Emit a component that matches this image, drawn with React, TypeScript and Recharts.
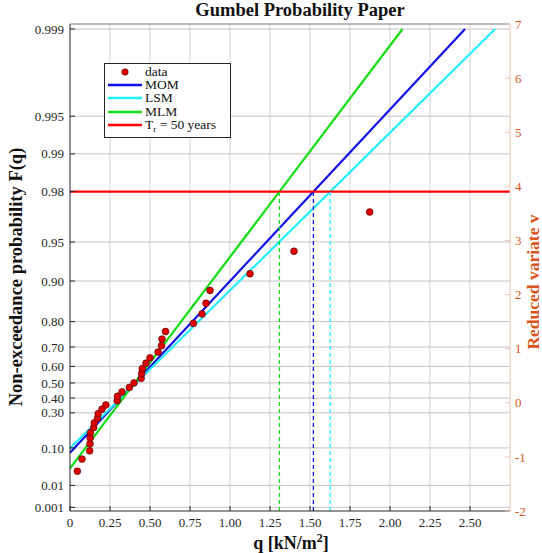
import {
  ComposedChart,
  Line,
  Scatter,
  XAxis,
  YAxis,
  ReferenceLine,
} from "recharts";

// sorted annual maxima q [kN/m2] and their plotting positions
const qObs = [
  0.046, 0.075, 0.123, 0.125, 0.126, 0.128, 0.148, 0.152, 0.172, 0.176, 0.2,
  0.224, 0.295, 0.297, 0.325, 0.371, 0.4, 0.445, 0.448, 0.452, 0.475, 0.5,
  0.55, 0.572, 0.575, 0.597, 0.771, 0.825, 0.85, 0.875, 1.125, 1.4, 1.873,
];
const pObs = [
  0.029, 0.059, 0.088, 0.118, 0.147, 0.176, 0.206, 0.235, 0.265, 0.294, 0.324,
  0.353, 0.382, 0.412, 0.441, 0.471, 0.5, 0.529, 0.559, 0.588, 0.618, 0.647,
  0.676, 0.706, 0.735, 0.765, 0.794, 0.824, 0.853, 0.882, 0.912, 0.941, 0.971,
];

// fitted Gumbel parameters: location u, scale alpha
const fitNames = ["MOM", "LSM", "MLM"];
const fitU = [0.291, 0.288, 0.31];
const fitAlpha = [0.3153, 0.343, 0.256];
const fitColors = ["#1010e8", "#22eeff", "#11dd11"];

const returnPeriod = 50;
const pMax = 0.999;

const probTicks = [
  "0.001", "0.01", "0.10", "0.30", "0.40", "0.50", "0.60", "0.70", "0.80",
  "0.90", "0.95", "0.98", "0.99", "0.995", "0.999",
];
const qTicks = [0, 0.25, 0.5, 0.75, 1, 1.25, 1.5, 1.75, 2, 2.25, 2.5];
const vTicks = [-2, -1, 0, 1, 2, 3, 4, 5, 6, 7];
const qMax = 2.75;

const FONT = "'Liberation Serif', 'DejaVu Serif', serif";
const AXIS = "#262626";
const ORANGE = "#D95319";
const GRID = "#d4d4d4";
const GRID_ROW = "#c4c4c4";

// reduced variate of the Gumbel distribution
const gumbelV = (p: number) => -Math.log(-Math.log(p));

const obs = qObs.map((q, i) => ({ q, v: gumbelV(pObs[i]) }));
const vT = gumbelV(1 - 1 / returnPeriod);
const vTop = gumbelV(pMax);

const fits = fitNames.map((name, i) => {
  const u = fitU[i];
  const a = fitAlpha[i];
  return {
    name,
    color: fitColors[i],
    line: [
      { q: 0, v: -u / a },
      { q: u + a * vTop, v: vTop },
    ],
    qDesign: u + a * vT,
  };
});

const probTickV = probTicks.map((p) => gumbelV(parseFloat(p)));
const probLabel = (v: number) => {
  let best = 0;
  probTickV.forEach((t, i) => {
    if (Math.abs(t - v) < Math.abs(probTickV[best] - v)) best = i;
  });
  return probTicks[best];
};

// horizontal grid of the probability paper, one row per F tick
const gridRows = probTickV.map((v) => [
  { q: 0, v },
  { q: qMax, v },
]);

const Dot = (props: any) => (
  <circle
    cx={props.cx}
    cy={props.cy}
    r={3.4}
    fill="#e00000"
    stroke="#4a0000"
    strokeWidth={0.6}
  />
);

function LegendBox() {
  const rows = [
    { label: "data", color: "#e00000", dot: true },
    ...fits.map((f) => ({ label: f.name, color: f.color, dot: false })),
    { label: "Tr", color: "#ff0000", dot: false },
  ];
  return (
    <div
      style={{
        position: "absolute",
        left: 104,
        top: 63,
        width: 127,
        height: 75,
        border: "1px solid #262626",
        background: "#fff",
        fontFamily: FONT,
        fontSize: 13.5,
        color: "#111",
        boxSizing: "border-box",
        paddingTop: 1,
      }}
    >
      {rows.map((r) => (
        <div
          key={r.label}
          style={{ display: "flex", alignItems: "center", height: 13.3 }}
        >
          <svg width={40} height={12} style={{ flex: "none" }}>
            {r.dot ? (
              <circle cx={20} cy={6} r={3.2} fill={r.color} stroke="#4a0000" strokeWidth={0.6} />
            ) : (
              <line x1={3} x2={37} y1={6} y2={6} stroke={r.color} strokeWidth={2.4} />
            )}
          </svg>
          <span style={{ lineHeight: "12px", whiteSpace: "nowrap" }}>
            {r.label === "Tr" ? (
              <>
                T<sub style={{ fontSize: 9, verticalAlign: -3, lineHeight: 0 }}>r</sub> = {returnPeriod} years
              </>
            ) : (
              r.label
            )}
          </span>
        </div>
      ))}
    </div>
  );
}

export default function App() {
  return (
    <div
      style={{
        position: "absolute",
        left: 0,
        top: 0,
        width: 542,
        height: 553,
        background: "#fff",
        fontFamily: FONT,
      }}
    >
      <ComposedChart
        width={542}
        height={553}
        margin={{ top: 23, right: 0, bottom: 0, left: 0 }}
      >
        <XAxis
          type="number"
          dataKey="q"
          domain={[0, qMax]}
          ticks={qTicks}
          interval={0}
          height={42}
          stroke={AXIS}
          tickSize={-5}
          tickMargin={12}
          tick={{ fill: AXIS, fontSize: 13, fontFamily: FONT }}
          tickFormatter={(v: number) => (v === 0 ? "0" : v.toFixed(2))}
        />
        <XAxis
          xAxisId="top"
          orientation="top"
          type="number"
          dataKey="q"
          domain={[0, qMax]}
          ticks={qTicks}
          interval={0}
          height={1}
          stroke="#777"
          tickSize={-5}
          tickFormatter={() => ""}
        />
        <YAxis
          yAxisId="F"
          type="number"
          domain={[-2, 7]}
          ticks={probTickV}
          interval={0}
          width={70}
          stroke={AXIS}
          tickSize={-5}
          tickMargin={11}
          tick={{ fill: AXIS, fontSize: 13, fontFamily: FONT }}
          tickFormatter={(v: number) => probLabel(v)}
        />
        <YAxis
          yAxisId="v"
          orientation="right"
          type="number"
          domain={[-2, 7]}
          ticks={vTicks}
          interval={0}
          width={32}
          stroke="#f0c2ac"
          tickSize={-5}
          tickMargin={10}
          tick={{ fill: ORANGE, fontSize: 13, fontFamily: FONT }}
        />

        {/* vertical grid at the q ticks */}
        {qTicks.slice(1).map((q) => (
          <ReferenceLine
            key={"gx" + q}
            x={q}
            yAxisId="v"
            stroke={GRID}
            strokeWidth={1}
            ifOverflow="visible"
          />
        ))}
        {/* horizontal grid at the F ticks */}
        {gridRows.map((row, i) => (
          <Line
            key={"gy" + i}
            data={row}
            dataKey="v"
            yAxisId="F"
            type="linear"
            stroke={GRID_ROW}
            strokeWidth={1}
            dot={false}
            activeDot={false}
            legendType="none"
            isAnimationActive={false}
          />
        ))}

        <Scatter
          data={obs}
          dataKey="v"
          yAxisId="F"
          shape={Dot}
          isAnimationActive={false}
        />
        {fits.map((f) => (
          <Line
            key={f.name}
            data={f.line}
            dataKey="v"
            yAxisId="v"
            type="linear"
            stroke={f.color}
            strokeWidth={2.2}
            dot={false}
            isAnimationActive={false}
          />
        ))}
        <ReferenceLine y={vT} yAxisId="v" stroke="#ff0000" strokeWidth={2.4} />
        {fits.map((f) => (
          <ReferenceLine
            key={f.name + "-design"}
            yAxisId="v"
            segment={[
              { x: f.qDesign, y: -2 },
              { x: f.qDesign, y: vT },
            ]}
            stroke={f.color}
            strokeWidth={1.3}
            strokeDasharray="4 3"
          />
        ))}
      </ComposedChart>

      <div
        style={{
          position: "absolute",
          left: 300,
          top: 10,
          transform: "translate(-50%, -50%)",
          whiteSpace: "nowrap",
          fontSize: 18.5,
          fontWeight: "bold",
          color: "#111",
        }}
      >
        Gumbel Probability Paper
      </div>
      <div
        style={{
          position: "absolute",
          left: 16,
          top: 277,
          transform: "translate(-50%, -50%) rotate(-90deg)",
          whiteSpace: "nowrap",
          fontSize: 18.5,
          fontWeight: "bold",
          color: "#111",
        }}
      >
        Non-exceedance probability F(q)
      </div>
      <div
        style={{
          position: "absolute",
          left: 533,
          top: 282,
          transform: "translate(-50%, -50%) rotate(-90deg)",
          whiteSpace: "nowrap",
          fontSize: 17.5,
          lineHeight: "18px",
          fontWeight: "bold",
          color: ORANGE,
        }}
      >
        Reduced variate v
      </div>
      <div
        style={{
          position: "absolute",
          left: 291,
          top: 543,
          transform: "translate(-50%, -50%)",
          whiteSpace: "nowrap",
          fontSize: 18,
          fontWeight: "bold",
          color: "#111",
        }}
      >
        q [kN/m<sup style={{ fontSize: 12, lineHeight: 0 }}>2</sup>]
      </div>
      <LegendBox />
    </div>
  );
}
